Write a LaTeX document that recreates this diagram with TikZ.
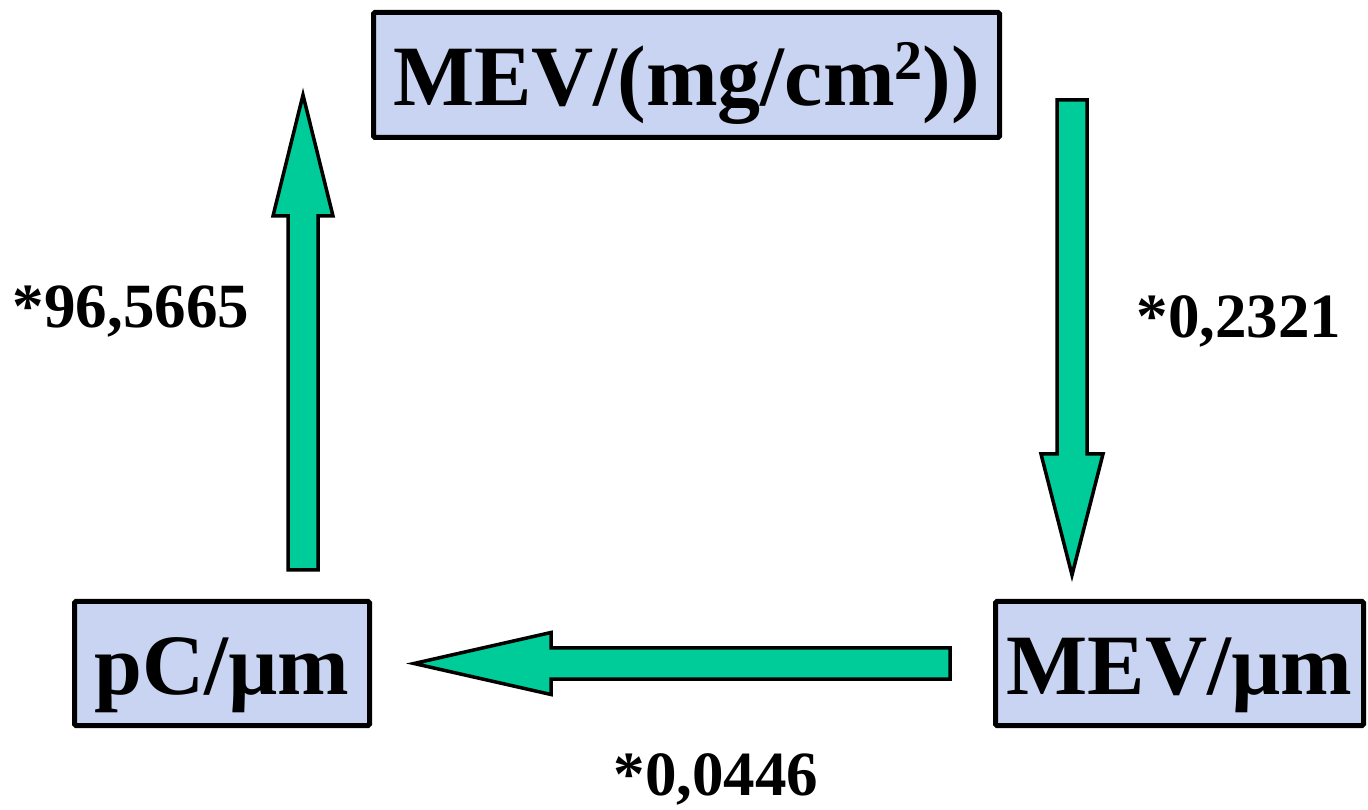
\documentclass[tikz,border=0pt]{standalone}
\usepackage{fontspec}
\setmainfont{Liberation Serif}
\usetikzlibrary{calc}
\definecolor{arrgreen}{RGB}{0,204,153}
\definecolor{boxfill}{RGB}{200,212,242}
% #1 tail, #2 tip, #3 shaft half width, #4 head half width, #5 head length, #6 name prefix
\newcommand\blockarr[6]{%
  \coordinate (#6b) at ($(#2)!#5!(#1)$);
  \draw[blockarrow] ($(#1)!#3!90:(#2)$) -- ($(#6b)!#3!90:(#2)$) -- ($(#6b)!#4!90:(#2)$) -- (#2)
     -- ($(#6b)!#4!-90:(#2)$) -- ($(#6b)!#3!-90:(#2)$) -- ($(#1)!#3!-90:(#2)$) -- cycle;}
\newcommand\supscr[1]{\raisebox{26pt}{\fontsize{56}{56}\selectfont #1}}
\begin{document}
\begin{tikzpicture}[x=1pt,y=1pt,
  unitbox/.style={draw=black, line width=5pt, fill=boxfill, rounded corners=1.5pt,
    inner sep=0pt, font=\fontsize{86}{86}\selectfont\bfseries,
    text height=62pt, text depth=0pt},
  factor/.style={font=\fontsize{63}{63}\selectfont\bfseries, anchor=base, inner sep=0pt},
  blockarrow/.style={draw=black, line width=3.5pt, fill=arrgreen, line join=miter}]
\useasboundingbox (0,0) rectangle (1368,809);
\fill[white] (0,0) rectangle (1368,809);
% boxes
\node[unitbox, minimum width=626pt, minimum height=125pt] (top) at (686.5,734) {MEV/(mg/cm\supscr{2}))};
\node[unitbox, minimum width=295pt, minimum height=124pt] (pc) at (222,145.5) {pC/µm};
\node[unitbox, minimum width=368pt, minimum height=124pt] (mevum) at (1179.5,145.5) {MEV/µm};
% arrows
\coordinate (upTail) at (303,239);
\coordinate (upTip) at (303,714);
\coordinate (dnTail) at (1072,709);
\coordinate (dnTip) at (1072,234);
\coordinate (lfTail) at (950,145.5);
\coordinate (lfTip) at (414,145.5);
\blockarr{upTail}{upTip}{15pt}{30pt}{121pt}{up}
\blockarr{dnTail}{dnTip}{15pt}{31pt}{121pt}{dn}
\blockarr{lfTail}{lfTip}{15.5pt}{31pt}{137pt}{lf}
% factors
\node[factor] (f1) at (131,481) {*96,5665};
\node[factor] (f2) at (1239,471) {*0,2321};
\node[factor] (f3) at (716,14) {*0,0446};
\end{tikzpicture}
\end{document}
